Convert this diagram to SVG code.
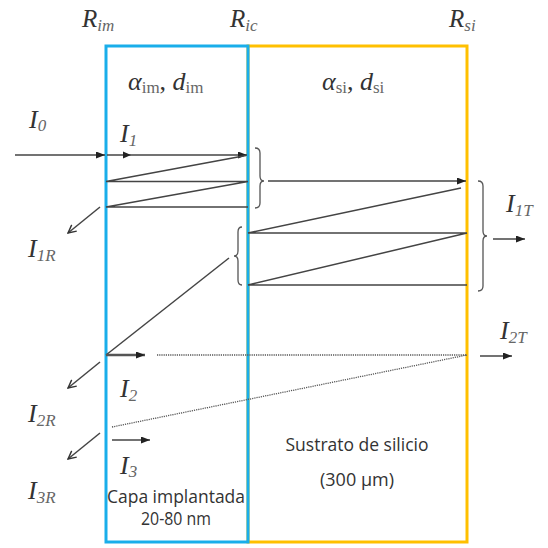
<svg xmlns="http://www.w3.org/2000/svg" width="548" height="548" viewBox="0 0 548 548">
<style>
.serif{font-family:"Liberation Serif","Times New Roman",serif;fill:#333}
.it{font-style:italic}
.sub{font-size:17px;fill:#666}
.sans{font-family:"Open Sans","Noto Sans",sans-serif;fill:#333}
.ln{stroke:#444;stroke-width:1.5;fill:none}
.dot{stroke:#555;stroke-width:1.3;stroke-dasharray:1.2,1;fill:none}
.br{stroke:#555;stroke-width:1.3;fill:none}
</style>
<defs>
<marker id="a" markerUnits="userSpaceOnUse" markerWidth="9" markerHeight="7" refX="9" refY="3.5" orient="auto"><path d="M0,0 L9,3.5 L0,7 z" fill="#222"/></marker>
<marker id="v" markerUnits="userSpaceOnUse" markerWidth="10" markerHeight="10" refX="9" refY="5" orient="auto"><path d="M1,1 L9,5 L1,9" fill="none" stroke="#333" stroke-width="1.4"/></marker>
</defs>
<g id="layer-si">
<rect x="248" y="46" width="219" height="496" fill="none" stroke="#FFC000" stroke-width="3"/>
<text class="serif" x="322" y="90" font-size="26"><tspan class="it">α</tspan><tspan class="sub" dy="3">si</tspan><tspan dy="-3">, </tspan><tspan class="it">d</tspan><tspan class="sub" dy="3">si</tspan></text>
<text class="sans" x="357" y="451" font-size="18" text-anchor="middle" textLength="143" lengthAdjust="spacingAndGlyphs">Sustrato de silicio</text>
<text class="sans" x="357" y="486" font-size="18" text-anchor="middle">(300 µm)</text>
</g>
<g id="layer-im">
<rect x="106" y="46" width="142" height="496" fill="none" stroke="#1AAEEA" stroke-width="3"/>
<text class="serif" x="128" y="90" font-size="26"><tspan class="it">α</tspan><tspan class="sub" dy="3">im</tspan><tspan dy="-3">, </tspan><tspan class="it">d</tspan><tspan class="sub" dy="3">im</tspan></text>
<text class="sans" x="176" y="503" font-size="18" text-anchor="middle" textLength="138" lengthAdjust="spacingAndGlyphs">Capa implantada</text>
<text class="sans" x="176" y="525" font-size="18" text-anchor="middle" textLength="70" lengthAdjust="spacingAndGlyphs">20-80 nm</text>
</g>
<g id="labels" class="serif">
<text class="it" x="82" y="27" font-size="25">R<tspan class="sub" dy="4">im</tspan></text>
<text class="it" x="230" y="27" font-size="25">R<tspan class="sub" dy="4">ic</tspan></text>
<text class="it" x="449" y="27" font-size="25">R<tspan class="sub" dy="4">si</tspan></text>
<text class="it" x="29" y="128" font-size="26">I<tspan class="sub" dy="3">0</tspan></text>
<text class="it" x="120" y="142" font-size="26">I<tspan class="sub" dy="4">1</tspan></text>
<text class="it" x="28" y="257" font-size="26">I<tspan class="sub" dy="4">1R</tspan></text>
<text class="it" x="506" y="212" font-size="26">I<tspan class="sub" dy="4">1T</tspan></text>
<text class="it" x="120" y="397" font-size="26">I<tspan class="sub" dy="4">2</tspan></text>
<text class="it" x="28" y="422" font-size="26">I<tspan class="sub" dy="4">2R</tspan></text>
<text class="it" x="500" y="339" font-size="26">I<tspan class="sub" dy="4">2T</tspan></text>
<text class="it" x="120" y="474" font-size="26">I<tspan class="sub" dy="3">3</tspan></text>
<text class="it" x="28" y="499" font-size="26">I<tspan class="sub" dy="4">3R</tspan></text>
</g>
<g id="connectors">
<line class="ln" x1="15" y1="155" x2="105" y2="155" marker-end="url(#a)"/>
<line class="ln" x1="107" y1="155" x2="247" y2="155" marker-end="url(#a)"/>
<path d="M123,151.5 L131,155 L123,158.5 z" fill="#222"/>
<path class="ln" d="M106,181.5 L246,155.5 M106,181.5 H248 M106,207 L248,181.5 M106,207 H248"/>
<line class="ln" x1="268" y1="181" x2="466" y2="181" marker-end="url(#a)"/>
<path class="ln" d="M248,233 L461,188 M248,233 H467 M248,285 L467,233 M248,285 H467"/>
<line class="ln" x1="106" y1="355" x2="229" y2="258"/>
<line x1="106" y1="355" x2="145" y2="355" stroke="#555" stroke-width="2.5" marker-end="url(#a)"/>
<line class="dot" x1="157" y1="355" x2="467" y2="355"/>
<line class="dot" x1="112" y1="427" x2="467" y2="355"/>
<line class="ln" x1="112" y1="440" x2="150" y2="440" marker-end="url(#a)"/>
<line class="ln" x1="100" y1="207" x2="68" y2="233" marker-end="url(#v)"/>
<line class="ln" x1="100" y1="362" x2="68" y2="388" marker-end="url(#v)"/>
<line class="ln" x1="100" y1="433" x2="68" y2="459" marker-end="url(#v)"/>
<line class="ln" x1="493" y1="239" x2="525" y2="239" marker-end="url(#a)"/>
<line class="ln" x1="480" y1="356" x2="512" y2="356" marker-end="url(#a)"/>
<path class="br" d="M255,148 Q260,148 260,153 L260,176 Q260,181 264,181 Q260,181 260,186 L260,203 Q260,208 255,208"/>
<path class="br" d="M242,227 Q238,227 238,232 L238,251 Q238,256 234,256 Q238,256 238,261 L238,280 Q238,285 242,285"/>
<path class="br" d="M478,181 Q483,181 483,186 L483,231 Q483,236 487,236 Q483,236 483,241 L483,286 Q483,291 478,291"/>
</g>
</svg>
